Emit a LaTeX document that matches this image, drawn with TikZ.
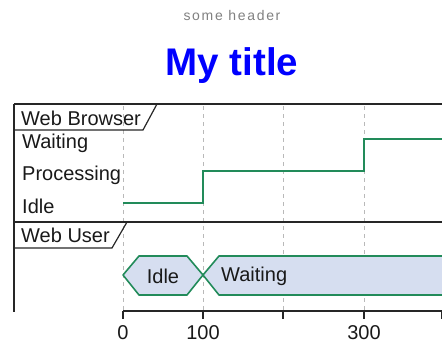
\documentclass[tikz,border=0pt]{standalone}
\usepackage{fontspec}
\setmainfont{Liberation Sans}
\newfontfamily\hdrfont[LetterSpace=12]{Liberation Sans}
\definecolor{stategreen}{RGB}{34,139,90}
\definecolor{hexfill}{RGB}{214,222,240}
\definecolor{hdrgray}{RGB}{128,128,128}
\definecolor{titleblue}{RGB}{0,0,255}
\begin{document}
\begin{tikzpicture}[x=1pt,y=-1pt,
  frame/.style={line width=1.8pt,black!85},
  thinframe/.style={line width=1.2pt,black!85},
  grid/.style={gray!55,line width=0.8pt,dash pattern=on 4pt off 4pt},
  sig/.style={stategreen,line width=1.9pt},
  hexbox/.style={draw=stategreen,fill=hexfill,line width=1.6pt,line join=round},
  lbl/.style={inner sep=0pt,anchor=west,font=\fontsize{20}{22}\selectfont,text=black!90},
  axlbl/.style={inner sep=0pt,font=\fontsize{20}{22}\selectfont,text=black!90},
  tick/.style={line width=1.8pt,black!85}]
\useasboundingbox (0,0) rectangle (442,345);
\clip (0,0) rectangle (442,345);
% header and title
\node[inner sep=0pt,font=\hdrfont\fontsize{14}{16}\selectfont,text=hdrgray] (hdr) at (232,15) {some header};
\node[inner sep=0pt,font=\bfseries\fontsize{38.5}{42}\selectfont,text=titleblue] (ttl) at (232,66) {My title};
% grid
\foreach \x/\n in {123/g0,203/g1,283/g2,364/g3}{
  \coordinate (\n t) at (\x,106);
  \coordinate (\n b) at (\x,310);
  \draw[grid] (\n t) -- (\n b);
}
% frame lines
\coordinate (ltop) at (14,104);
\coordinate (lbot) at (14,312);
\coordinate (rtop) at (450,104);
\coordinate (mid) at (14,222);
\coordinate (rmid) at (450,222);
\draw[frame] (ltop) -- (lbot);
\draw[frame] (ltop) -- (rtop);
\draw[frame] (mid) -- (rmid);
% Web Browser label box
\coordinate (wb1) at (157,104);
\coordinate (wb2) at (143,130);
\coordinate (wb3) at (14,130);
\draw[thinframe] (wb1) -- (wb2) -- (wb3);
\node[lbl] (wbl) at (21,118) {Web Browser};
% Web User label box
\coordinate (wu1) at (127,222);
\coordinate (wu2) at (112,248);
\coordinate (wu3) at (14,248);
\draw[thinframe] (wu1) -- (wu2) -- (wu3);
\node[lbl] (wul) at (21,235) {Web User};
% state labels
\node[lbl] (sw) at (22,143) {Waiting};
\node[lbl] (sp) at (22,175) {Processing};
\node[lbl] (si) at (22,206) {Idle};
% step signal
\coordinate (s0) at (123,203);
\coordinate (s1) at (203,203);
\coordinate (s2) at (203,171);
\coordinate (s3) at (364,171);
\coordinate (s4) at (364,139);
\coordinate (s5) at (450,139);
\draw[sig] (s0) -- (s1) -- (s2) -- (s3) -- (s4) -- (s5);
% hexagons
\draw[hexbox] (123,275) -- (139,256) -- (187,256) -- (203,275) -- (187,295) -- (139,295) -- cycle;
\draw[hexbox] (203,275) -- (219,256) -- (460,256) -- (460,295) -- (219,295) -- cycle;
\node[axlbl] (hidle) at (163,276) {Idle};
\node[lbl] (hwait) at (221,276) {Waiting};
% axis
\coordinate (a0) at (123,311);
\coordinate (a1) at (450,311);
\draw[frame] (a0) -- (a1);
\foreach \x/\n in {123/t0,203/t1,283/t2,364/t3,442/t4}{
  \coordinate (\n a) at (\x,311);
  \coordinate (\n b) at (\x,319);
  \draw[tick] (\n a) -- (\n b);
}
\node[axlbl] (l0) at (123,333) {0};
\node[axlbl] (l1) at (203,333) {100};
\node[axlbl] (l3) at (364,333) {300};
\end{tikzpicture}
\end{document}
